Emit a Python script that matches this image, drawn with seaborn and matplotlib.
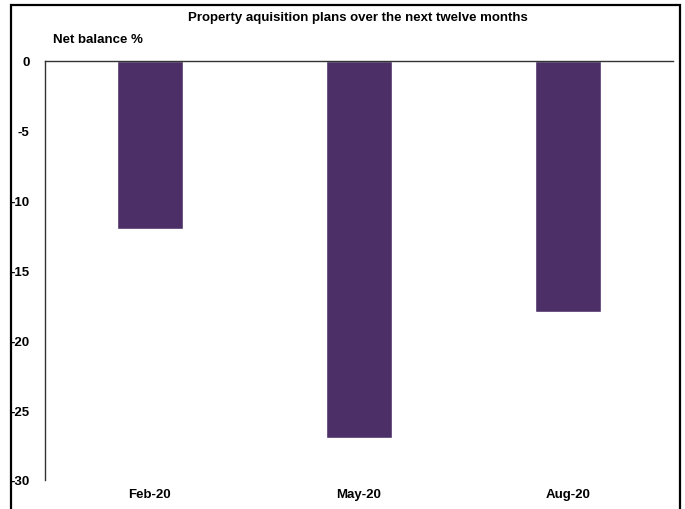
import matplotlib
matplotlib.use("Agg")
import matplotlib.pyplot as plt
import matplotlib.patches as mpatches
import seaborn as sns
import pandas as pd

months = ["Feb-20", "May-20", "Aug-20"]
net_balance = [-12, -27, -18]
y_ticks = [0, -5, -10, -15, -20, -25, -30]

title = "Property aquisition plans over the next twelve months"
y_label = "Net balance %"
bar_color = "#4B2F66"

sns.set_theme(style="white")
plt.rcParams["font.family"] = ["Liberation Sans Narrow", "Liberation Sans", "DejaVu Sans"]
plt.rcParams["font.weight"] = "bold"
plt.rcParams["text.color"] = "black"
plt.rcParams["xtick.color"] = "black"
plt.rcParams["ytick.color"] = "black"

df = pd.DataFrame({"month": months, "balance": net_balance})

fig = plt.figure(figsize=(6.85, 5.1), dpi=100)
ax = fig.add_axes([45 / 685, 1 - 481 / 510, (673 - 45) / 685, (481 - 62) / 510])

sns.barplot(data=df, x="month", y="balance", color=bar_color, width=0.315,
            saturation=1, ax=ax)

ax.set_ylim(-30, 0)
ax.set_xlim(-0.5, 2.5)
ax.set_yticks(y_ticks)
ax.set_yticklabels([str(v) for v in y_ticks], fontsize=9.5, fontweight="bold")
ax.tick_params(axis="y", length=0, pad=11)
ax.tick_params(axis="x", length=0, pad=6, labelsize=9.5)
for lbl in ax.get_xticklabels():
    lbl.set_fontweight("bold")
ax.set_xlabel("")
ax.set_ylabel("")

for side in ["bottom", "right"]:
    ax.spines[side].set_visible(False)
for side in ["left", "top"]:
    ax.spines[side].set_visible(True)
    ax.spines[side].set_color("#333333")
    ax.spines[side].set_linewidth(1.0)

fig.text(358 / 685, 1 - 18 / 510, title, ha="center", va="center",
         fontsize=9.5, fontweight="bold")
fig.text(53 / 685, 1 - 40 / 510, y_label, ha="left", va="center",
         fontsize=9.5, fontweight="bold")

# outer frame around the chart
frame = mpatches.Rectangle((11 / 685, -0.02), (680 - 11) / 685, 1 - 6 / 510 + 0.02,
                           transform=fig.transFigure, fill=False,
                           edgecolor="black", linewidth=1.6)
fig.patches.append(frame)

fig.savefig("out.png", dpi=100)
